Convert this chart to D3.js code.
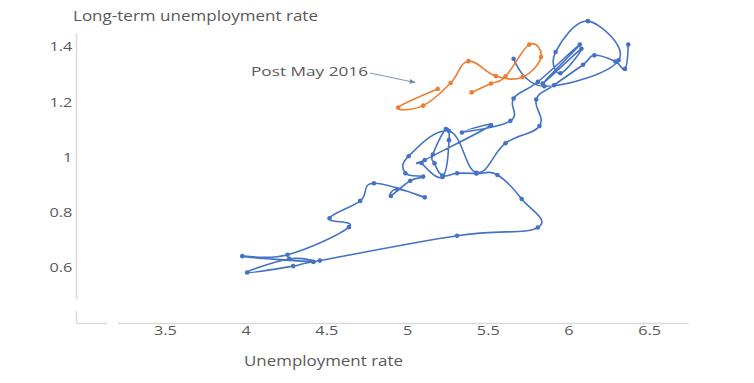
<!DOCTYPE html>
<html>
<head>
<meta charset="utf-8">
<script src="https://cdn.jsdelivr.net/npm/d3@7"></script>
<style>
    body { margin: 0; background: #ffffff; }
    text { font-family: "Open Sans", "DejaVu Sans", sans-serif; fill: #595959; }
</style>
</head>
<body>
<div id="chart"></div>
<script>
// unemployment rate (x) / long-term unemployment rate (y), in plotting order
var blueX = [6.37, 6.35, 6.29, 6.16, 6.09, 5.91, 5.80, 5.82, 5.61, 5.43, 5.26, 5.01, 4.99, 5.10, 5.02, 4.90, 4.94, 5.11, 4.795, 4.71,
             4.52, 4.64, 4.26, 3.98, 4.42, 4.27, 4.01, 4.295, 4.46, 5.31, 5.81, 5.71, 5.56, 5.43, 5.31, 5.22, 5.17, 5.16, 5.24, 5.26,
             5.22, 5.09, 5.11, 5.52, 5.34, 5.64, 5.66, 5.81, 6.07, 5.84, 6.08, 5.95, 5.92, 6.12, 6.31, 5.85, 5.66];
var blueY = [1.408, 1.32, 1.347, 1.369, 1.335, 1.261, 1.209, 1.113, 1.051, 0.944, 1.095, 1.004, 0.942, 0.93, 0.915, 0.86, 0.884, 0.855, 0.906, 0.842,
             0.779, 0.747, 0.647, 0.642, 0.621, 0.632, 0.583, 0.606, 0.626, 0.716, 0.746, 0.849, 0.936, 0.941, 0.942, 0.934, 0.978, 1.01, 1.102, 1.062,
             0.929, 0.979, 0.99, 1.116, 1.09, 1.132, 1.213, 1.273, 1.408, 1.267, 1.393, 1.304, 1.381, 1.493, 1.351, 1.257, 1.357];

var orangeX = [5.40, 5.52, 5.61, 5.757, 5.83, 5.716, 5.55, 5.38, 5.27, 5.10, 4.945, 5.19];
var orangeY = [1.235, 1.267, 1.293, 1.408, 1.363, 1.291, 1.294, 1.348, 1.269, 1.187, 1.18, 1.247];

var xTicks = [3.5, 4, 4.5, 5, 5.5, 6, 6.5];
var yTicks = [0.6, 0.8, 1, 1.2, 1.4];

var width = 754, height = 383;

var svg = d3.select("#chart").append("svg")
            .attr("width", width)
            .attr("height", height);

var x = d3.scaleLinear().domain([2.95, 6.74]).range([76, 688]);
var y = d3.scaleLinear().domain([0.4, 1.45]).range([323, 33]);

// axes - no ticks, light grey lines
var xAxis = svg.append("g")
            .attr("transform", "translate(0,323)")
            .call(d3.axisBottom(x).tickValues(xTicks).tickSize(0).tickPadding(3).tickFormat(d3.format("")));
var yAxis = svg.append("g")
            .attr("transform", "translate(76,0)")
            .call(d3.axisLeft(y).tickValues(yTicks).tickSize(0).tickPadding(3).tickFormat(d3.format("")));

svg.selectAll(".domain")
            .style("stroke", "#d9d9d9")
            .style("stroke-width", 1.5);
svg.selectAll(".tick text")
            .style("font-size", "13px")
            .style("fill", "#595959")
            .attr("transform", "scale(1.25,1)");

// small breaks in the axis lines
svg.append("rect").attr("x", 107).attr("y", 320).attr("width", 11).attr("height", 6).style("fill", "#ffffff");
svg.append("rect").attr("x", 73).attr("y", 299).attr("width", 6).attr("height", 12).style("fill", "#ffffff");

function drawSeries(xs, ys, color) {
    var pts = xs.map(function(v, i) { return [x(v), y(ys[i])]; });
    var line = d3.line().curve(d3.curveCardinal.tension(-0.2));
    svg.append("path")
        .attr("d", line(pts))
        .style("fill", "none")
        .style("stroke", color)
        .style("stroke-width", 1.6);
    svg.append("g").selectAll("circle")
        .data(pts)
        .enter().append("circle")
        .attr("cx", function(d) { return d[0]; })
        .attr("cy", function(d) { return d[1]; })
        .attr("r", 2.3)
        .style("fill", color);
}

drawSeries(blueX, blueY, "#4472c4");
drawSeries(orangeX, orangeY, "#ed7d31");

// titles
svg.append("text")
    .attr("x", 73).attr("y", 21)
    .attr("textLength", 245).attr("lengthAdjust", "spacingAndGlyphs")
    .style("font-size", "14px")
    .text("Long-term unemployment rate");
svg.append("text")
    .attr("x", 244).attr("y", 366)
    .attr("textLength", 159).attr("lengthAdjust", "spacingAndGlyphs")
    .style("font-size", "14px")
    .text("Unemployment rate");

// annotation
svg.append("defs").append("marker")
    .attr("id", "arrow")
    .attr("viewBox", "0 0 10 10")
    .attr("refX", 9).attr("refY", 5)
    .attr("markerWidth", 6).attr("markerHeight", 6)
    .attr("orient", "auto")
    .append("path").attr("d", "M0,1L10,5L0,9z").style("fill", "#6f86ad");
svg.append("text")
    .attr("x", 251).attr("y", 76)
    .attr("textLength", 117).attr("lengthAdjust", "spacingAndGlyphs")
    .style("font-size", "13px")
    .text("Post May 2016");
svg.append("line")
    .attr("x1", 370).attr("y1", 73)
    .attr("x2", 415).attr("y2", 82.5)
    .style("stroke", "#8094b4")
    .style("stroke-width", 1)
    .attr("marker-end", "url(#arrow)");
</script>
</body>
</html>
